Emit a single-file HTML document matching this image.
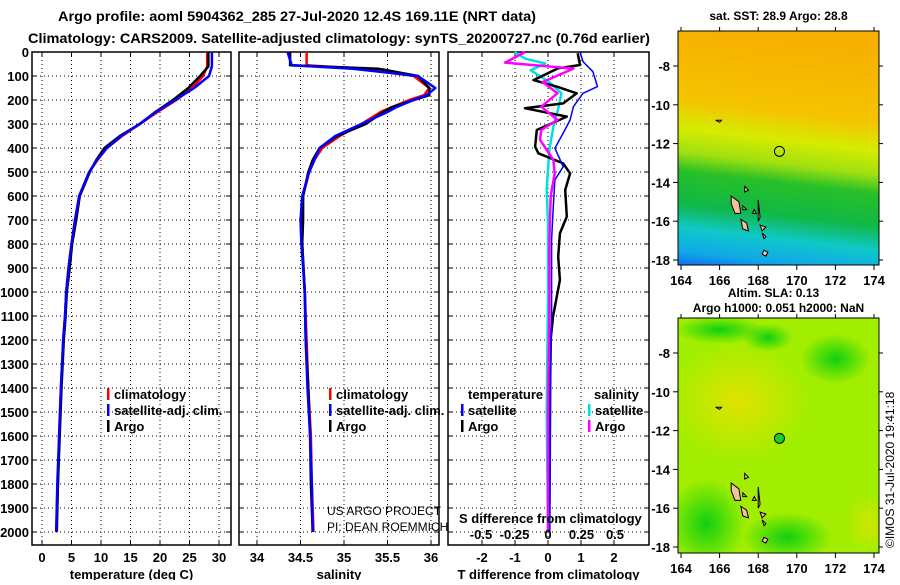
<!DOCTYPE html>
<html><head><meta charset="utf-8"><style>
body{margin:0;background:#fff;width:900px;height:580px;overflow:hidden}
svg text{font-family:"Liberation Sans Narrow","Liberation Sans",sans-serif;font-weight:bold;font-size:13px;fill:#000}
</style></head><body>
<svg id="c" width="900" height="580" viewBox="0 0 900 580" xmlns="http://www.w3.org/2000/svg">
<defs>
<linearGradient id="sst" x1="0.1" y1="0" x2="0" y2="1">
<stop offset="0" stop-color="#f7b000"/><stop offset="0.3" stop-color="#f5c400"/><stop offset="0.42" stop-color="#d4ec00"/><stop offset="0.52" stop-color="#a0e010"/><stop offset="0.6" stop-color="#28c028"/><stop offset="0.74" stop-color="#10b848"/><stop offset="0.84" stop-color="#10c8c8"/><stop offset="0.94" stop-color="#10a8e8"/><stop offset="1" stop-color="#1070f0"/>
</linearGradient>
<radialGradient id="yel1" cx="0.5" cy="0.5" r="0.5"><stop offset="0" stop-color="#f0e000"/><stop offset="1" stop-color="#f0e000" stop-opacity="0"/></radialGradient>
<radialGradient id="gr1" cx="0.5" cy="0.5" r="0.5"><stop offset="0" stop-color="#10d010"/><stop offset="1" stop-color="#10d010" stop-opacity="0"/></radialGradient>
<clipPath id="clipBot"><rect x="678" y="318" width="201" height="235"/></clipPath>
</defs>
<text x="58" y="21" textLength="478" lengthAdjust="spacingAndGlyphs" style="font-size:14px">Argo profile: aoml 5904362_285 27-Jul-2020 12.4S 169.11E (NRT data)</text>
<text x="28" y="43" textLength="622" lengthAdjust="spacingAndGlyphs" style="font-size:14px">Climatology: CARS2009. Satellite-adjusted climatology: synTS_20200727.nc (0.76d earlier)</text>
<g id="plots"></g>
<g id="maps"></g>
<text transform="translate(894,548) rotate(-90)" style="font-weight:normal;font-size:12px">©IMOS 31-Jul-2020 19:41:18</text>
</svg>
<script>
// ---- data ----
const depthTicks=[0,100,200,300,400,500,600,700,800,900,1000,1100,1200,1300,1400,1500,1600,1700,1800,1900,2000];
const tempTicks=[0,5,10,15,20,25,30];
const salTicks=[34,34.5,35,35.5,36];
const tdTicks=[-2,-1,0,1,2];
const sdTicks=[-0.5,-0.25,0,0.25,0.5];
const sdTickLabels=["-0.5","-0.25","0","0.25","0.5"];

const tDepth=[0,60,100,150,200,250,300,350,400,450,500,600,700,800,900,1000,1100,1200,1400,1600,1800,2000];
const tArgo=[28.2,28.2,26.8,24.8,22.2,19.2,16.6,13.2,10.6,9.2,8.1,6.4,5.8,5.1,4.7,4.2,4.0,3.7,3.3,3.0,2.7,2.5];
const tClim=[28.0,28.0,27.3,25.4,22.8,19.6,16.6,13.6,11.0,9.4,8.0,6.3,5.6,5.0,4.5,4.1,3.9,3.6,3.2,2.9,2.7,2.4];
const tSat=[28.8,28.8,28.3,25.8,22.6,19.3,16.5,13.4,11.0,9.3,8.0,6.3,5.6,5.0,4.5,4.1,3.9,3.6,3.2,2.9,2.6,2.4];

const sDepth=[0,55,70,100,150,180,200,230,250,300,350,400,450,500,600,700,800,1000,1200,1400,1600,1800,2000];
const sArgo=[34.38,34.38,35.4,35.85,35.98,35.98,35.8,35.55,35.45,35.25,34.92,34.72,34.64,34.59,34.53,34.53,34.52,34.55,34.56,34.59,34.61,34.62,34.64];
const sClim=[34.57,34.57,35.2,35.8,35.98,35.92,35.75,35.55,35.42,35.2,34.95,34.75,34.66,34.6,34.53,34.52,34.52,34.55,34.57,34.59,34.62,34.63,34.65];
const sSat=[34.35,34.4,35.1,35.85,36.05,35.95,35.8,35.6,35.5,35.2,34.9,34.72,34.66,34.6,34.52,34.5,34.51,34.55,34.56,34.58,34.61,34.63,34.64];

const dtArgoDepth=[5,54,68,117,144,172,214,234,269,325,394,422,464,506,575,686,756,853,950,1061,1103,1200,1400,1700,2000];
const dtArgo=[0.9,0.97,0.31,-0.44,0.26,0.87,0.46,-0.7,0.57,-0.34,-0.39,-0.29,0.46,0.67,0.52,0.57,0.36,0.31,0.36,0.21,0.15,0.08,0.06,0.05,0.04];
const dtSatDepth=[0,40,82,144,172,228,283,338,401,478,533,644,783,1103,1400,1700,2000];
const dtSat=[0.97,1.06,1.36,1.5,1.06,0.77,0.67,0.46,0.21,0.46,0.21,0.16,0.11,0.11,0.08,0.07,0.05];
const dsArgoDepth=[0,44,69,125,172,228,283,325,366,450,506,600,800,1100,1500,2000];
const dsArgo=[-0.17,-0.32,0.19,-0.04,0.07,-0.05,0.07,-0.05,-0.06,0.04,0.05,0.02,0.01,0.01,0.0,0.0];
const dsSatDepth=[0,28,48,76,125,172,228,311,408,575,714,1000,1500,2000];
const dsSat=[-0.25,-0.17,-0.02,-0.13,0.01,0.10,0.08,0.04,0.01,-0.01,0.0,0.0,-0.01,0.0];

// ---- helpers ----
const NS="http://www.w3.org/2000/svg";
const plots=document.getElementById('plots');
function mk(tag,attrs,parent){const e=document.createElementNS(NS,tag);for(const k in attrs)e.setAttribute(k,attrs[k]);(parent||plots).appendChild(e);return e;}
const yTop=52,yBot=545,pxPerDbar=0.24;
function yD(d){return yTop+d*pxPerDbar;}
function lin(d0,d1,r0,r1){return v=>r0+(v-d0)*(r1-r0)/(d1-d0);}
const panels=[
 {name:'temperature',x0:32,x1:231,sx:lin(0,30,42,219),ticks:tempTicks,title:'temperature (deg C)'},
 {name:'salinity',x0:239,x1:439,sx:lin(34,36,257,431),ticks:salTicks,title:'salinity'},
 {name:'difference',x0:448,x1:649,sx:lin(-2,2,482,614),ticks:tdTicks,title:'T difference from climatology'}
];
const sxS=lin(-0.5,0.5,481,615);

panels.forEach(p=>{
 const g=mk('g',{});
 
 
 depthTicks.forEach(d=>{
  const l=mk('line',{x1:p.x0,x2:p.x1,y1:yD(d),y2:yD(d),stroke:'#000','stroke-width':1,'stroke-dasharray':'1,3'},g);
  
  
  mk('line',{x1:p.x0,x2:p.x0+5,y1:yD(d),y2:yD(d),stroke:'#000'},g);
  mk('line',{x1:p.x1-5,x2:p.x1,y1:yD(d),y2:yD(d),stroke:'#000'},g);
 });
 p.ticks.forEach((t,i)=>{
  const x=p.sx(t);
  const l=mk('line',{x1:x,x2:x,y1:yTop,y2:yBot,stroke:'#000','stroke-dasharray':'1,3'},g);
  
  
  mk('line',{x1:x,x2:x,y1:yTop,y2:yTop+5,stroke:'#000'},g);
  mk('line',{x1:x,x2:x,y1:yBot-5,y2:yBot,stroke:'#000'},g);
  const tx=mk('text',{x:x,y:562,'text-anchor':'middle'},g);tx.textContent=String(t);
  
  
 });
 const r=mk('rect',{x:p.x0,y:yTop,width:p.x1-p.x0,height:yBot-yTop,fill:'none',stroke:'#000','stroke-width':1.5},g);
 
 
 const tt=mk('text',{x:(p.x0+p.x1)/2,y:579,'text-anchor':'middle'},g);tt.textContent=p.title;
 
 
});
depthTicks.forEach(d=>{
 const t=mk('text',{x:29,y:yD(d)+5,'text-anchor':'end'});t.textContent=String(d);
 
 
});
function stepLine(depths,vals,sx,color,w,name){
 let d='';
 depths.forEach((dp,i)=>{d+=(i?'L':'M')+sx(vals[i]).toFixed(1)+','+yD(dp).toFixed(1);});
 const p=mk('path',{d:d,fill:'none',stroke:color,'stroke-width':w,'stroke-linejoin':'round'});
 
 
}
const P=panels;
stepLine(tDepth,tClim,P[0].sx,'#ff0000',2.5,'temp-climatology-line');
stepLine(tDepth,tArgo,P[0].sx,'#000',2.5,'temp-argo-line');
stepLine(tDepth,tSat,P[0].sx,'#0000ff',2.5,'temp-satellite-line');
stepLine(sDepth,sClim,P[1].sx,'#ff0000',2.5,'sal-climatology-line');
stepLine(sDepth,sArgo,P[1].sx,'#000',2.5,'sal-argo-line');
stepLine(sDepth,sSat,P[1].sx,'#0000ff',2.5,'sal-satellite-line');
stepLine(dsSatDepth,dsSat,sxS,'#00e0e0',2.5,'sdiff-satellite-line');
stepLine(dtArgoDepth,dtArgo,P[2].sx,'#000',2.5,'tdiff-argo-line');
stepLine(dtSatDepth,dtSat,P[2].sx,'#0000ff',1.5,'tdiff-satellite-line');
stepLine(dsArgoDepth,dsArgo,sxS,'#ff00ff',2.5,'sdiff-argo-line');

// legends
function leg(x,y,color,label,name){
 const r=mk('rect',{x:x,y:y-11,width:2.5,height:12,fill:color});
 
 
 if(label){const t=mk('text',{x:x+7,y:y});t.textContent=label;
 
 }
}
leg(107,399,'#ff0000','climatology','legend-climatology');
leg(107,415,'#0000ff','satellite-adj. clim.','legend-satellite');
leg(107,431,'#000','Argo','legend-argo');
leg(329,399,'#ff0000','climatology','legend2-climatology');
leg(329,415,'#0000ff','satellite-adj. clim.','legend2-satellite');
leg(329,431,'#000','Argo','legend2-argo');
leg(461,415,'#0000ff','satellite','legend-t-satellite');
leg(461,431,'#000','Argo','legend-t-argo');
leg(588,415,'#00e0e0','satellite','legend-s-satellite');
leg(588,431,'#ff00ff','Argo','legend-s-argo');
function txt(x,y,s,name,anchor,style){const t=mk('text',{x:x,y:y,'text-anchor':anchor||'start'});if(style)t.setAttribute('style',style);t.textContent=s;
 
 return t;}
txt(468,399,'temperature','legend-temperature-heading');
txt(594,399,'salinity','legend-salinity-heading');
txt(459,523,'S difference from climatology','s-axis-title');
sdTicks.forEach((v,i)=>txt(sxS(v),539,sdTickLabels[i],'s-tick-label','middle'));
txt(327,515,'US ARGO PROJECT','project-credit','start','font-weight:normal;font-size:12px');
txt(327,531,'PI: DEAN ROEMMICH','pi-credit','start','font-weight:normal;font-size:12px');

// ---- maps ----
const maps=document.getElementById('maps');
function mm(tag,attrs,parent){const e=document.createElementNS(NS,tag);for(const k in attrs)e.setAttribute(k,attrs[k]);(parent||maps).appendChild(e);return e;}
const lonTicks=[164,166,168,170,172,174];
const latTicks=[-8,-10,-12,-14,-16,-18];
const islands=[[166.6,-14.7,167.0,-15.0,167.1,-15.6,166.8,-15.6,166.6,-15.1],[167.1,-15.9,167.4,-16.1,167.5,-16.5,167.2,-16.4],[168.1,-16.2,168.4,-16.3,168.2,-16.5],[168.2,-16.6,168.4,-16.8,168.3,-16.9],[168.3,-17.5,168.5,-17.6,168.4,-17.8,168.2,-17.7],[167.3,-14.2,167.5,-14.4,167.3,-14.5],[167.2,-15.2,167.4,-15.4,167.2,-15.4],[165.8,-10.8,166.1,-10.8,166.0,-10.9],[168.0,-14.9,168.1,-15.8,168.0,-16.0],[167.8,-15.4,167.9,-15.6,167.7,-15.6]];
function drawMap(x0,y0,x1,y1,title,title2,kind,t1y,t2y){
 const g=mm('g',{});
 
 
 const lx=lin(164,174,681,874), ly=lin(-8,-18,y0+35,y0+229);
 if(kind==='sst'){
  mm('rect',{x:x0,y:y0,width:x1-x0,height:y1-y0,fill:'url(#sst)'},g);
 } else {
  const cg=mm('g',{'clip-path':'url(#clipBot)'},g);
  mm('rect',{x:x0,y:y0,width:x1-x0,height:y1-y0,fill:'#a2ee00'},cg);
  mm('ellipse',{cx:lx(167),cy:ly(-10.5),rx:70,ry:60,fill:'url(#yel1)',opacity:0.8},cg);
  mm('ellipse',{cx:lx(172),cy:ly(-8.3),rx:35,ry:25,fill:'url(#gr1)'},cg);
  mm('ellipse',{cx:lx(165.3),cy:ly(-16.8),rx:40,ry:45,fill:'url(#gr1)'},cg);
  mm('ellipse',{cx:lx(169.5),cy:ly(-17.5),rx:45,ry:25,fill:'url(#gr1)'},cg);
  mm('ellipse',{cx:lx(166),cy:ly(-6.8),rx:45,ry:14,fill:'url(#gr1)'},cg);
  mm('ellipse',{cx:lx(168.5),cy:ly(-7.2),rx:25,ry:14,fill:'url(#gr1)'},cg);
  mm('ellipse',{cx:lx(173.7),cy:ly(-16.8),rx:22,ry:30,fill:'url(#yel1)',opacity:0.6},cg);
 }
 islands.forEach(pts=>{let s='';for(let i=0;i<pts.length;i+=2)s+=lx(pts[i]).toFixed(1)+','+ly(pts[i+1]).toFixed(1)+' ';
  const p=mm('polygon',{points:s,fill:'#f5c09a',stroke:'#000','stroke-width':1},g);
  
  });
 const c=mm('circle',{cx:lx(169.1),cy:ly(-12.4),r:5,fill:kind==='sst'?'none':'#20d020',stroke:'#000','stroke-width':1},g);
 
 
 mm('rect',{x:x0,y:y0,width:x1-x0,height:y1-y0,fill:'none',stroke:'#000'},g);
 lonTicks.forEach(v=>{const x=lx(v);mm('line',{x1:x,x2:x,y1:y1,y2:y1+5,stroke:'#000'},g);mm('line',{x1:x,x2:x,y1:y0-4,y2:y0,stroke:'#000'},g);
  const t=mm('text',{x:x,y:y1+20,'text-anchor':'middle'},g);t.textContent=String(v);
  
  });
 latTicks.forEach(v=>{const y=ly(v);mm('line',{x1:x0-5,x2:x0,y1:y,y2:y,stroke:'#000'},g);mm('line',{x1:x1,x2:x1+4,y1:y,y2:y,stroke:'#000'},g);
  const t=mm('text',{x:x0-8,y:y+5,'text-anchor':'end'},g);t.textContent=String(v);
  
  });
 const t1=mm('text',{x:(x0+x1)/2,y:t1y,'text-anchor':'middle','style':'font-size:12px'},g);t1.textContent=title;
 
 
 if(title2){const t2=mm('text',{x:(x0+x1)/2-5,y:t2y,'text-anchor':'middle','style':'font-size:12px'},g);t2.textContent=title2;
 
 }
}
drawMap(678,31,879,265,'sat. SST: 28.9 Argo: 28.8',null,'sst',20,0);
drawMap(678,318,879,553,'Argo h1000: 0.051 h2000: NaN','Altim. SLA: 0.13','sla',312,297);
</script>
</body></html>
